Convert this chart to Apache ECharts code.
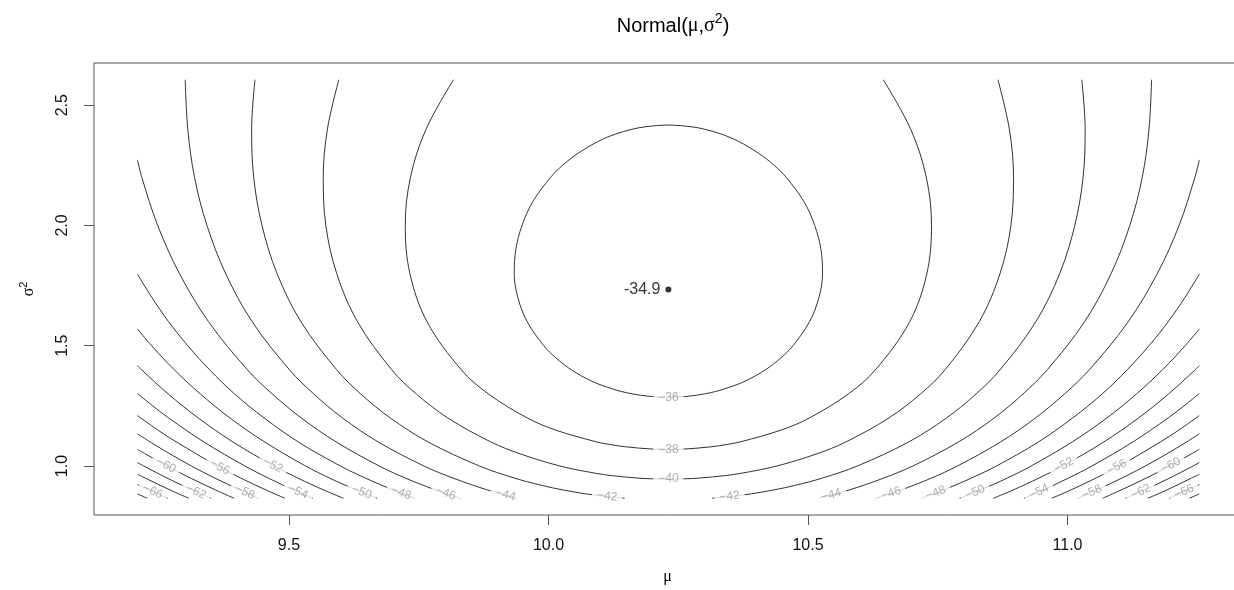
<!DOCTYPE html>
<html>
<head>
<meta charset="utf-8"/>
<style>
    html,body { margin:0; padding:0; background:#fff; }
    #main { width:1234px; height:590px; }
</style>
</head>
<body>
<div id="main"></div>
<script src="https://cdn.jsdelivr.net/npm/echarts@6/dist/echarts.min.js"></script>
<script type="text/javascript">

// tick positions
var muTicks = [9.5, 10.0, 10.5, 11.0];
var sigTicks = [1.0, 1.5, 2.0, 2.5];

// maximum of the log-likelihood
var mleMu = 10.231;
var mleSig2 = 1.734;
var mleValue = '-34.9';

// contour lines, [mu, sigma^2] pairs
var c36 = [[10.231,1.2856],[10.269,1.29],[10.301,1.30],[10.322,1.31],[10.338,1.32],[10.376,1.35],[10.418,1.40],[10.448,1.45],[10.471,1.50],[10.503,1.60],[10.521,1.70],[10.528,1.80],[10.525,1.90],[10.513,2.00],[10.492,2.10],[10.458,2.20],[10.435,2.25],[10.405,2.30],[10.366,2.35],[10.333,2.38],[10.301,2.40],[10.277,2.41],[10.231,2.4175],[10.185,2.41],[10.161,2.40],[10.129,2.38],[10.096,2.35],[10.057,2.30],[10.027,2.25],[10.004,2.20],[9.970,2.10],[9.949,2.00],[9.937,1.90],[9.934,1.80],[9.941,1.70],[9.959,1.60],[9.991,1.50],[10.014,1.45],[10.044,1.40],[10.086,1.35],[10.124,1.32],[10.140,1.31],[10.161,1.30],[10.193,1.29],[10.231,1.2856]];
var c38 = [[9.817,2.606],[9.764,2.4],[9.734,2.2],[9.724,2.0],[9.733,1.8],[9.766,1.6],[9.832,1.4],[9.884,1.3],[9.959,1.2],[10.013,1.15],[10.093,1.1],[10.117,1.09],[10.148,1.08],[10.204,1.07],[10.231,1.0689],[10.258,1.07],[10.314,1.08],[10.345,1.09],[10.369,1.1],[10.449,1.15],[10.503,1.2],[10.578,1.3],[10.630,1.4],[10.696,1.6],[10.729,1.8],[10.738,2.0],[10.728,2.2],[10.698,2.4],[10.645,2.606]];
var c40 = [[9.596,2.606],[9.574,2.4],[9.566,2.2],[9.571,2.0],[9.592,1.8],[9.632,1.6],[9.698,1.4],[9.745,1.3],[9.806,1.2],[9.889,1.1],[9.946,1.05],[10.022,1.0],[10.090,0.97],[10.122,0.96],[10.171,0.95],[10.197,0.947],[10.231,0.9457],[10.265,0.947],[10.291,0.95],[10.340,0.96],[10.372,0.97],[10.440,1.0],[10.516,1.05],[10.573,1.1],[10.656,1.2],[10.717,1.3],[10.764,1.4],[10.830,1.6],[10.870,1.8],[10.891,2.0],[10.896,2.2],[10.888,2.4],[10.866,2.606]];
var c42L = [[9.4345,2.606],[9.428,2.4],[9.432,2.2],[9.448,2.0],[9.477,1.8],[9.523,1.6],[9.592,1.4],[9.638,1.3],[9.695,1.2],[9.768,1.1],[9.867,1.0],[9.934,0.95],[9.986,0.92],[10.029,0.9],[10.0855,0.88],[10.1466,0.866]];
var c42R = [[11.0275,2.606],[11.034,2.4],[11.030,2.2],[11.014,2.0],[10.985,1.8],[10.939,1.6],[10.870,1.4],[10.824,1.3],[10.767,1.2],[10.694,1.1],[10.595,1.0],[10.528,0.95],[10.476,0.92],[10.433,0.9],[10.3765,0.88],[10.3154,0.866]];
var c44L = [[9.300,2.606],[9.305,2.4],[9.318,2.2],[9.342,2.0],[9.378,1.8],[9.429,1.6],[9.501,1.4],[9.5475,1.3],[9.603,1.2],[9.672,1.1],[9.760,1.0],[9.816,0.95],[9.883,0.9],[9.941,0.866]];
var c44R = [[11.162,2.606],[11.157,2.4],[11.144,2.2],[11.120,2.0],[11.084,1.8],[11.033,1.6],[10.961,1.4],[10.9145,1.3],[10.859,1.2],[10.790,1.1],[10.702,1.0],[10.646,0.95],[10.579,0.9],[10.521,0.866]];
var c46L = [[9.208,2.2725],[9.2165,2.2],[9.247,2.0],[9.289,1.8],[9.345,1.6],[9.420,1.4],[9.4676,1.3],[9.5235,1.2],[9.591,1.1],[9.674,1.0],[9.724,0.95],[9.783,0.9],[9.830,0.866]];
var c46R = [[11.254,2.2725],[11.2455,2.2],[11.215,2.0],[11.173,1.8],[11.117,1.6],[11.042,1.4],[10.9944,1.3],[10.9385,1.2],[10.871,1.1],[10.788,1.0],[10.738,0.95],[10.679,0.9],[10.632,0.866]];
var c48L = [[9.208,1.7974],[9.236,1.7],[9.268,1.6],[9.305,1.5],[9.347,1.4],[9.395,1.3],[9.452,1.2],[9.518,1.1],[9.599,1.0],[9.647,0.95],[9.701,0.9],[9.743,0.866]];
var c48R = [[11.254,1.7974],[11.226,1.7],[11.194,1.6],[11.157,1.5],[11.115,1.4],[11.067,1.3],[11.010,1.2],[10.944,1.1],[10.863,1.0],[10.815,0.95],[10.761,0.9],[10.719,0.866]];
var c50L = [[9.208,1.5698],[9.2355,1.5],[9.279,1.4],[9.329,1.3],[9.386,1.2],[9.453,1.1],[9.532,1.0],[9.578,0.95],[9.630,0.9],[9.670,0.866]];
var c50R = [[11.254,1.5698],[11.2265,1.5],[11.183,1.4],[11.133,1.3],[11.076,1.2],[11.009,1.1],[10.930,1.0],[10.884,0.95],[10.832,0.9],[10.792,0.866]];
var c52L = [[9.208,1.4171],[9.216,1.4],[9.267,1.3],[9.325,1.2],[9.392,1.1],[9.471,1.0],[9.517,0.95],[9.567,0.9],[9.605,0.866]];
var c52R = [[11.254,1.4171],[11.246,1.4],[11.195,1.3],[11.137,1.2],[11.070,1.1],[10.991,1.0],[10.945,0.95],[10.895,0.9],[10.857,0.866]];
var c54L = [[9.208,1.3014],[9.2375,1.25],[9.268,1.2],[9.336,1.1],[9.415,1.0],[9.460,0.95],[9.509,0.9],[9.546,0.866]];
var c54R = [[11.254,1.3014],[11.2245,1.25],[11.194,1.2],[11.126,1.1],[11.047,1.0],[11.002,0.95],[10.953,0.9],[10.916,0.866]];
var c56L = [[9.208,1.2097],[9.247,1.15],[9.283,1.1],[9.362,1.0],[9.407,0.95],[9.456,0.9],[9.492,0.866]];
var c56R = [[11.254,1.2097],[11.215,1.15],[11.179,1.1],[11.100,1.0],[11.055,0.95],[11.006,0.9],[10.970,0.866]];
var c58L = [[9.208,1.134],[9.2326,1.1],[9.271,1.05],[9.312,1.0],[9.357,0.95],[9.406,0.9],[9.442,0.866]];
var c58R = [[11.254,1.134],[11.2294,1.1],[11.191,1.05],[11.150,1.0],[11.105,0.95],[11.056,0.9],[11.020,0.866]];
var c60L = [[9.208,1.0696],[9.2236,1.05],[9.265,1.0],[9.310,0.95],[9.359,0.9],[9.394,0.866]];
var c60R = [[11.254,1.0696],[11.2384,1.05],[11.197,1.0],[11.152,0.95],[11.103,0.9],[11.068,0.866]];
var c62L = [[9.208,1.0142],[9.220,1.0],[9.265,0.95],[9.314,0.9],[9.350,0.866]];
var c62R = [[11.254,1.0142],[11.242,1.0],[11.197,0.95],[11.148,0.9],[11.112,0.866]];
var c64L = [[9.208,0.9656],[9.223,0.95],[9.271,0.9],[9.307,0.866]];
var c64R = [[11.254,0.9656],[11.239,0.95],[11.191,0.9],[11.155,0.866]];
var c66L = [[9.208,0.9224],[9.231,0.9],[9.266,0.866]];
var c66R = [[11.254,0.9224],[11.231,0.9],[11.196,0.866]];
var c68L = [[9.208,0.884],[9.227,0.866]];
var c68R = [[11.254,0.884],[11.235,0.866]];

var contourPieces = [c36, c38, c40, c42L, c42R, c44L, c44R, c46L, c46R, c48L, c48R,
    c50L, c50R, c52L, c52R, c54L, c54R, c56L, c56R, c58L, c58R, c60L, c60R,
    c62L, c62R, c64L, c64R, c66L, c66R, c68L, c68R];

// contour labels (text, where they sit on the line, and their tilt)
var labelText = ['\u221236','\u221238','\u221240','\u221242','\u221242','\u221244','\u221244','\u221246','\u221246',
    '\u221248','\u221248','\u221250','\u221250','\u221252','\u221252','\u221254','\u221254','\u221256','\u221256',
    '\u221258','\u221258','\u221260','\u221260','\u221262','\u221262','\u221266','\u221266'];
var labelMu = [10.231, 10.231, 10.231, 10.113, 10.349, 9.917, 10.545, 9.802, 10.660,
    9.716, 10.746, 9.640, 10.822, 9.469, 10.993, 9.517, 10.945, 9.367, 11.095,
    9.415, 11.047, 9.263, 11.199, 9.321, 11.141, 9.2375, 11.2245];
var labelSig2 = [1.2856, 1.0689, 0.9457, 0.874, 0.874, 0.880, 0.880, 0.886, 0.886,
    0.888, 0.888, 0.891, 0.891, 1.003, 1.003, 0.893, 0.893, 0.995, 0.995,
    0.8915, 0.8915, 1.003, 1.003, 0.893, 0.893, 0.8935, 0.8935];
var labelAngle = [0, 0, 0, -6, 6, -15, 15, -19, 19,
    -21, 21, -22, 22, -28, 28, -24, 24, -28, 28,
    -24, 24, -28, 28, -24, 24, -24, 24];

var sansFont = 'Liberation Sans, Arial, sans-serif';
var greekFont = 'Liberation Serif, serif';

var myChart = echarts.init(document.getElementById('main'));

var series = contourPieces.map(function (pts) {
    return {
        type: 'line',
        data: pts,
        showSymbol: false,
        smooth: 0.35,
        silent: true,
        z: 2,
        lineStyle: { color: '#333', width: 1 }
    };
});

series.push({
    type: 'scatter',
    z: 5,
    silent: true,
    symbolSize: 1,
    itemStyle: { color: 'rgba(0,0,0,0)' },
    label: {
        show: true,
        position: 'inside',
        fontSize: 12,
        fontFamily: sansFont,
        color: '#999',
        backgroundColor: '#fff',
        padding: [0, 5]
    },
    data: labelText.map(function (t, i) {
        return {
            value: [labelMu[i], labelSig2[i]],
            label: { rotate: labelAngle[i], formatter: t }
        };
    })
});

series.push({
    type: 'scatter',
    z: 6,
    silent: true,
    symbolSize: 6,
    itemStyle: { color: '#000' },
    label: {
        show: true,
        position: 'left',
        distance: 5,
        formatter: mleValue,
        fontSize: 16,
        fontFamily: sansFont,
        color: '#000'
    },
    data: [[mleMu, mleSig2]]
});

var option = {
    animation: false,
    backgroundColor: '#fff',
    textStyle: { fontFamily: sansFont },
    title: {
        text: '{t|Normal(}{g|\u03bc}{t|,}{g|\u03c3}{s|2}{t|)}',
        left: 668,
        top: 7,
        textAlign: 'center',
        textStyle: {
            fontWeight: 'normal',
            rich: {
                t: { fontSize: 20, color: '#000', fontWeight: 'normal', fontFamily: sansFont, lineHeight: 28 },
                g: { fontSize: 20, color: '#000', fontWeight: 'normal', fontFamily: greekFont, lineHeight: 28 },
                s: { fontSize: 14, color: '#000', fontWeight: 'normal', fontFamily: sansFont, verticalAlign: 'top', lineHeight: 15 }
            }
        }
    },
    grid: {
        left: 94,
        top: 63,
        width: 1147,
        height: 452,
        outerBoundsMode: 'none',
        containLabel: false,
        show: true,
        borderColor: '#555',
        borderWidth: 1,
        backgroundColor: 'transparent'
    },
    xAxis: {
        type: 'value',
        min: 9.1243,
        max: 11.3343,
        name: '\u03bc',
        nameLocation: 'middle',
        nameGap: 54,
        nameTextStyle: { fontSize: 16, fontFamily: greekFont, color: '#000' },
        axisLine: { show: false },
        splitLine: { show: false },
        axisTick: { show: true, length: 10, customValues: muTicks, lineStyle: { color: '#555' } },
        axisLabel: {
            customValues: muTicks,
            margin: 23,
            fontSize: 16,
            color: '#111',
            formatter: function (v) { return v.toFixed(1); }
        }
    },
    yAxis: {
        type: 'value',
        min: 0.7963,
        max: 2.6756,
        name: '{g|\u03c3}{s|2}',
        nameLocation: 'middle',
        nameRotate: 90,
        nameGap: 54,
        nameTextStyle: {
            rich: {
                g: { fontSize: 16, fontFamily: greekFont, color: '#000', lineHeight: 22 },
                s: { fontSize: 11, fontFamily: sansFont, color: '#000', verticalAlign: 'top', lineHeight: 12 }
            }
        },
        axisLine: { show: false },
        splitLine: { show: false },
        axisTick: { show: true, length: 10, customValues: sigTicks, lineStyle: { color: '#555' } },
        axisLabel: {
            customValues: sigTicks,
            rotate: 90,
            margin: 23,
            fontSize: 16,
            color: '#111',
            formatter: function (v) { return v.toFixed(1); }
        }
    },
    series: series
};

myChart.setOption(option);

</script>
</body>
</html>
